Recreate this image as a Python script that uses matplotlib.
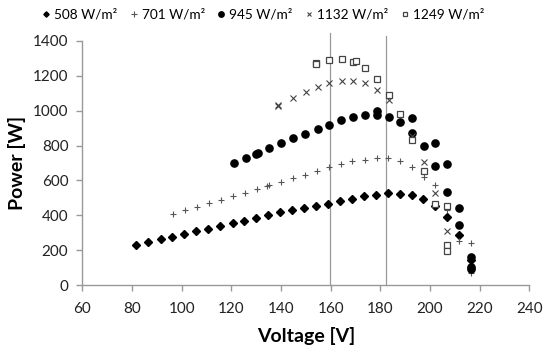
import matplotlib.pyplot as plt

plt.rcParams['font.family'] = ['Lato', 'DejaVu Sans']

# 508 W/m2
v508 = [81.6, 86.6, 91.6, 96.3, 101.1, 105.8, 110.6, 115.5, 120.6, 125.2, 130.1, 134.9, 139.6, 144.6,
        149.4, 154.1, 159.0, 163.8, 168.6, 173.5, 178.4, 183.1, 187.9, 192.7, 197.3, 202.2, 206.9,
        211.8, 216.7]
p508 = [231, 248, 264, 277, 293, 308, 323, 341, 356, 369, 382, 400, 417, 431,
        443, 455, 467, 480, 493, 509, 518, 526, 524, 516, 492, 455, 388,
        289, 143]

# 701 W/m2
v701 = [96.7, 101.5, 106.3, 111.0, 116.0, 120.8, 125.7, 130.4, 134.5, 135.3, 139.9, 144.7, 149.8,
        154.5, 159.5, 164.2, 168.7, 173.7, 178.7, 183.2, 188.1, 192.8, 197.6, 202.2, 206.9, 211.7,
        216.7, 216.7]
p701 = [409, 428, 449, 470, 488, 512, 530, 549, 570, 574, 593, 614, 633,
        654, 675, 692, 710, 719, 727, 727, 711, 679, 621, 572, 430, 254,
        239, 67]

# 945 W/m2
v945 = [121.0, 125.8, 130.0, 130.6, 135.3, 140.1, 145.0, 149.8, 154.8, 159.5, 164.3, 169.2, 174.0,
        178.7, 178.7, 183.4, 188.1, 192.8, 192.8, 197.6, 202.2, 202.2, 207.0, 207.0, 211.7, 211.7,
        216.7, 216.7, 216.7]
p945 = [702, 729, 753, 757, 786, 817, 843, 868, 895, 920, 947, 962, 975,
        998, 977, 966, 935, 960, 874, 798, 813, 681, 694, 532, 440, 342,
        159, 102, 94]

# 1132 W/m2
v1132 = [138.9, 138.9, 144.7, 150.0, 154.8, 159.5, 164.5, 169.2, 174.0, 178.7, 183.4, 188.1,
         192.8, 197.6, 202.2, 206.9]
p1132 = [1033, 1028, 1071, 1107, 1136, 1157, 1171, 1172, 1159, 1117, 1060, 979,
         855, 706, 528, 312]

# 1249 W/m2
v1249 = [154.1, 154.1, 159.4, 164.5, 169.2, 170.1, 174.0, 178.7, 183.4, 188.1, 192.8, 197.6,
         202.2, 206.9, 206.9, 206.9]
p1249 = [1276, 1270, 1293, 1295, 1281, 1285, 1243, 1180, 1092, 979, 834, 654,
         465, 453, 229, 197]

vlines = [159.6, 182.2]
vline_tops = [1445, 1430]

fig = plt.figure(figsize=(5.5, 3.53), dpi=100)
ax = fig.add_axes([0.1496, 0.1926, 0.8128, 0.6913])

ax.plot(v508, p508, 'D', color='black', ms=3.6, ls='none', label='508 W/m²')
ax.plot(v701, p701, '+', color='#555555', ms=5, mew=0.8, ls='none', label='701 W/m²')
ax.plot(v945, p945, 'o', color='black', ms=5.2, ls='none', label='945 W/m²')
ax.plot(v1132, p1132, 'x', color='#444444', ms=4.6, mew=0.8, ls='none', label='1132 W/m²')
ax.plot(v1249, p1249, 's', mfc='white', mec='#444444', ms=4.8, mew=0.9, ls='none', label='1249 W/m²')

for x, top in zip(vlines, vline_tops):
    ax.plot([x, x], [0, top], color='#999999', lw=0.9, clip_on=False, zorder=0)

ax.set_xlim(60, 240)
ax.set_ylim(0, 1400)
ax.set_xticks(range(60, 241, 20))
ax.set_yticks(range(0, 1401, 200))

for s in ['top', 'right']:
    ax.spines[s].set_visible(False)
for s in ['left', 'bottom']:
    ax.spines[s].set_color('#999999')
    ax.spines[s].set_linewidth(1.0)
ax.tick_params(colors='#999999', labelcolor='#222222', labelsize=11, length=4, width=1.0)
ax.tick_params(axis='x', pad=8)
ax.tick_params(axis='y', pad=6)

ax.set_xlabel('Voltage [V]', fontsize=14, fontweight='bold', labelpad=8)
ax.set_ylabel('Power [W]', fontsize=14, fontweight='bold', labelpad=5)

fig.legend(loc='center', bbox_to_anchor=(0.477, 0.958), ncol=5, frameon=False,
           fontsize=9.8, handletextpad=0.2, columnspacing=0.8, handlelength=0.8,
           markerscale=0.75)

fig.savefig('out.png', dpi=100)
